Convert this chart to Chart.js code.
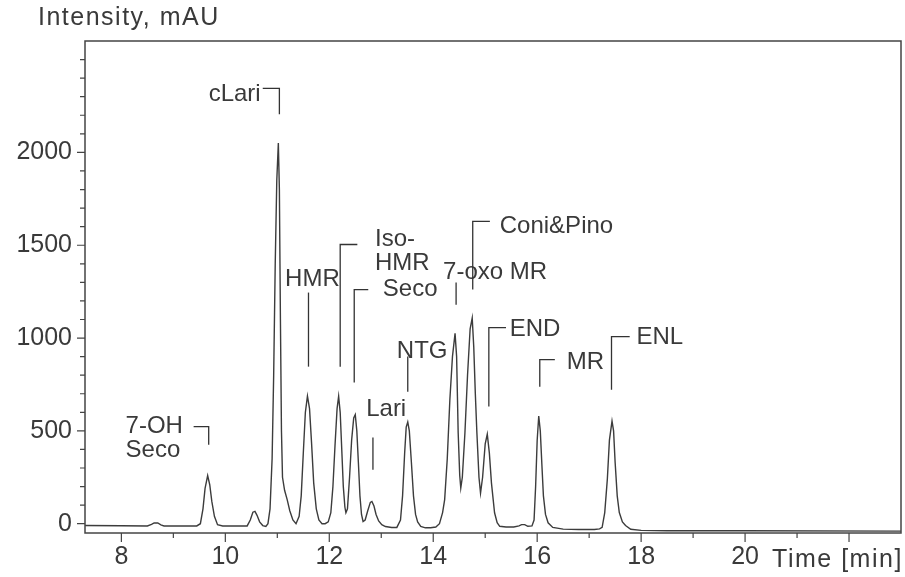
<!DOCTYPE html>
<html><head><meta charset="utf-8">
<script src="https://cdn.jsdelivr.net/npm/chart.js@4.4.0/dist/chart.umd.min.js"></script>
<style>html,body{margin:0;padding:0;background:#fff}#wrap{width:905px;height:577px}</style>
</head><body><div id="wrap"><canvas id="c" width="905" height="577"></canvas></div>
<script>
// ---- Data ----
const timeMin = [
  7.30, 8.00, 8.50, 8.58, 8.63, 8.70, 8.76, 8.82, 9.20, 9.45, 9.52, 9.57, 9.61, 9.66, 9.70, 9.74, 9.79, 9.85, 9.95,
  10.30, 10.42, 10.48, 10.53, 10.57, 10.61, 10.66, 10.72, 10.78,
  10.82, 10.86, 10.90, 10.93, 10.96, 10.99, 11.02, 11.04, 11.06, 11.08, 11.10, 11.14, 11.19, 11.24, 11.30, 11.36,
  11.42, 11.46, 11.50, 11.54, 11.58, 11.62, 11.66, 11.70, 11.75, 11.80, 11.86, 11.92,
  11.98, 12.03, 12.07, 12.11, 12.15, 12.18, 12.21, 12.24, 12.27, 12.30, 12.32,
  12.35, 12.39, 12.43, 12.47, 12.50, 12.53, 12.56, 12.59, 12.62, 12.65,
  12.69, 12.74, 12.79, 12.82, 12.86, 12.90, 12.95, 13.01, 13.08, 13.20, 13.30,
  13.37, 13.41, 13.45, 13.48, 13.51, 13.54, 13.58, 13.62, 13.66, 13.70, 13.76, 13.85, 13.95,
  14.05, 14.12, 14.18, 14.22, 14.27, 14.32, 14.37, 14.42, 14.45, 14.48, 14.51, 14.53,
  14.56, 14.61, 14.66, 14.71, 14.75, 14.78, 14.81, 14.84, 14.88, 14.91,
  14.95, 15.00, 15.04, 15.08, 15.12, 15.18, 15.23, 15.28, 15.40, 15.55,
  15.65, 15.70, 15.76, 15.82, 15.90, 15.94, 15.97, 16.00, 16.03, 16.06, 16.09, 16.12, 16.16, 16.21, 16.30, 16.50, 16.80, 17.10, 17.20,
  17.25, 17.30, 17.35, 17.39, 17.44, 17.47, 17.50, 17.54, 17.58, 17.64, 17.70, 17.80, 18.00, 18.50, 20.00, 23.00
];
const intensity = [
  -10, -11, -12, -4, 4, 4, -6, -12, -12, -12, 0, 80, 190, 259, 210, 120, 40, -5, -12,
  -12, -12, 20, 62, 66, 45, 10, -10, -15,
  0, 80, 350, 800, 1400, 1850, 2050, 1800, 1100, 500, 250, 180, 130, 70, 20, 0,
  40, 150, 380, 600, 688, 620, 430, 220, 80, 20, 0, 0,
  10, 60, 200, 420, 620, 686, 600, 400, 200, 90, 59,
  80, 250, 450, 570, 588, 500, 330, 150, 50, 12,
  20, 70, 115, 120, 95, 50, 15, -5, -15, -20, -20,
  20, 150, 380, 520, 548, 500, 330, 150, 50, 10, -15, -22, -22,
  -18, 0, 60, 130, 350, 668, 900, 1025, 900, 490, 260, 192,
  250, 490, 800, 1050, 1108, 950, 700, 490, 250, 165,
  250, 430, 482, 380, 220, 59, 5, -14, -18, -18,
  -12, -5, -5, -14, -12, 20, 200, 450, 580, 500, 320, 150, 50, 5, -20, -29, -31, -31, -28,
  -20, 60, 240, 450, 553, 500, 330, 150, 60, 10, -10, -30, -36, -38, -38, -40
];
const xTickValues = [8, 10, 12, 14, 16, 18, 20, 22];
const xMinorTicks = [9, 11, 13, 15, 17, 19, 21];
const yTickValues = [0, 500, 1000, 1500, 2000];
const yMinorTicks = [100,200,300,400,600,700,800,900,1100,1200,1300,1400,1600,1700,1800,1900,2100,2200,2300,2400,2500];
const yAxisTitle = 'Intensity, mAU';
const xAxisTitle = 'Time [min]';

// peak annotations (label text, anchor in data units)
const peakLabels = [
  {lines:['cLari'], tx:10.68, ty:2311, align:'right', path:[[10.72,2345],[11.04,2345],[11.04,2205]]},
  {lines:['HMR'], tx:11.15, ty:1315, align:'left', path:[[11.60,1245],[11.60,846]]},
  {lines:['Iso-','HMR'], tx:12.88, ty:1531, align:'left', path:[[12.54,1504],[12.21,1504],[12.21,846]]},
  {lines:['Seco'], tx:13.03, ty:1261, align:'left', path:[[12.75,1261],[12.48,1261],[12.48,760]]},
  {lines:['NTG'], tx:13.30, ty:927, align:'left', path:[[13.51,900],[13.51,711]]},
  {lines:['Lari'], tx:12.71, ty:614, align:'left', path:[[12.84,464],[12.84,291]]},
  {lines:['7-OH','Seco'], tx:8.08, ty:523, align:'left', path:[[9.39,523],[9.68,523],[9.68,426]]},
  {lines:['7-oxo MR'], tx:14.19, ty:1353, align:'left', path:[[14.44,1299],[14.44,1180]]},
  {lines:['Coni&Pino'], tx:15.28, ty:1601, align:'left', path:[[15.09,1628],[14.76,1628],[14.76,1261]]},
  {lines:['END'], tx:15.47, ty:1046, align:'left', path:[[15.40,1056],[15.07,1056],[15.07,631]]},
  {lines:['MR'], tx:16.57, ty:868, align:'left', path:[[16.34,884],[16.05,884],[16.05,738]]},
  {lines:['ENL'], tx:17.91, ty:1003, align:'left', path:[[17.78,1008],[17.43,1008],[17.43,722]]}
];

const INK = '#3a3a3a';
const FONT = '"Liberation Sans", Arial, sans-serif';

const decor = {
  id: 'decor',
  afterDraw(chart) {
    const ctx = chart.ctx, a = chart.chartArea;
    const xs = chart.scales.x, ys = chart.scales.y;
    ctx.save();
    ctx.strokeStyle = '#444';
    ctx.lineWidth = 1.5;
    ctx.strokeRect(a.left, a.top, a.right - a.left, a.bottom - a.top);
    ctx.lineWidth = 1.2;
    ctx.beginPath();
    xTickValues.forEach(v => { const p = xs.getPixelForValue(v); ctx.moveTo(p, a.bottom); ctx.lineTo(p, a.bottom + 9); });
    xMinorTicks.forEach(v => { const p = xs.getPixelForValue(v); ctx.moveTo(p, a.bottom); ctx.lineTo(p, a.bottom + 5); });
    yTickValues.forEach(v => { const p = ys.getPixelForValue(v); ctx.moveTo(a.left, p); ctx.lineTo(a.left - 8, p); });
    yMinorTicks.forEach(v => { const p = ys.getPixelForValue(v); ctx.moveTo(a.left, p); ctx.lineTo(a.left - 5, p); });
    ctx.stroke();

    // annotations
    ctx.strokeStyle = '#333';
    ctx.lineWidth = 1.3;
    ctx.fillStyle = INK;
    ctx.font = '24px ' + FONT;
    ctx.textBaseline = 'middle';
    peakLabels.forEach(l => {
      ctx.beginPath();
      l.path.forEach((pt, i) => {
        const px = xs.getPixelForValue(pt[0]), py = ys.getPixelForValue(pt[1]);
        if (i === 0) ctx.moveTo(px, py); else ctx.lineTo(px, py);
      });
      ctx.stroke();
      ctx.textAlign = l.align;
      const tx = xs.getPixelForValue(l.tx), ty = ys.getPixelForValue(l.ty);
      l.lines.forEach((s, i) => ctx.fillText(s, tx, ty + i * 24));
    });

    // axis titles
    ctx.font = '25px ' + FONT;
    try { ctx.letterSpacing = '1.5px'; } catch (e) {}
    ctx.textAlign = 'left';
    ctx.fillText(yAxisTitle, a.left - 47, 18);
    ctx.fillText(xAxisTitle, xs.getPixelForValue(20) + 27, a.bottom + 27);
    ctx.restore();
  }
};

new Chart(document.getElementById('c'), {
  type: 'line',
  data: {
    datasets: [{
      data: timeMin.map((t, i) => ({x: t, y: intensity[i]})),
      borderColor: '#3c3c3c',
      borderWidth: 1.4,
      pointRadius: 0,
      tension: 0,
      fill: false
    }]
  },
  options: {
    responsive: false,
    animation: false,
    devicePixelRatio: 1,
    layout: {padding: {top: 41, right: 4, left: 0, bottom: 0}},
    plugins: {legend: {display: false}, tooltip: {enabled: false}, title: {display: false}},
    scales: {
      x: {
        type: 'linear', min: 7.3, max: 23.0,
        grid: {display: false, drawTicks: false},
        border: {display: false},
        afterBuildTicks: s => { s.ticks = xTickValues.map(v => ({value: v})); },
        afterFit: s => { s.height = 44; },
        ticks: {
          color: INK, padding: 9, maxRotation: 0, autoSkip: false,
          font: {family: FONT, size: 25, lineHeight: 1.2},
          callback: v => (v === 22 ? '' : String(v))
        }
      },
      y: {
        type: 'linear', min: -50, max: 2600,
        grid: {display: false, drawTicks: false},
        border: {display: false},
        afterBuildTicks: s => { s.ticks = yTickValues.map(v => ({value: v})); },
        afterFit: s => { s.width = 85; },
        ticks: {
          color: INK, padding: 13, autoSkip: false,
          font: {family: FONT, size: 25, lineHeight: 1.2},
          callback: v => String(v)
        }
      }
    }
  },
  plugins: [decor]
});
</script>
</body></html>
